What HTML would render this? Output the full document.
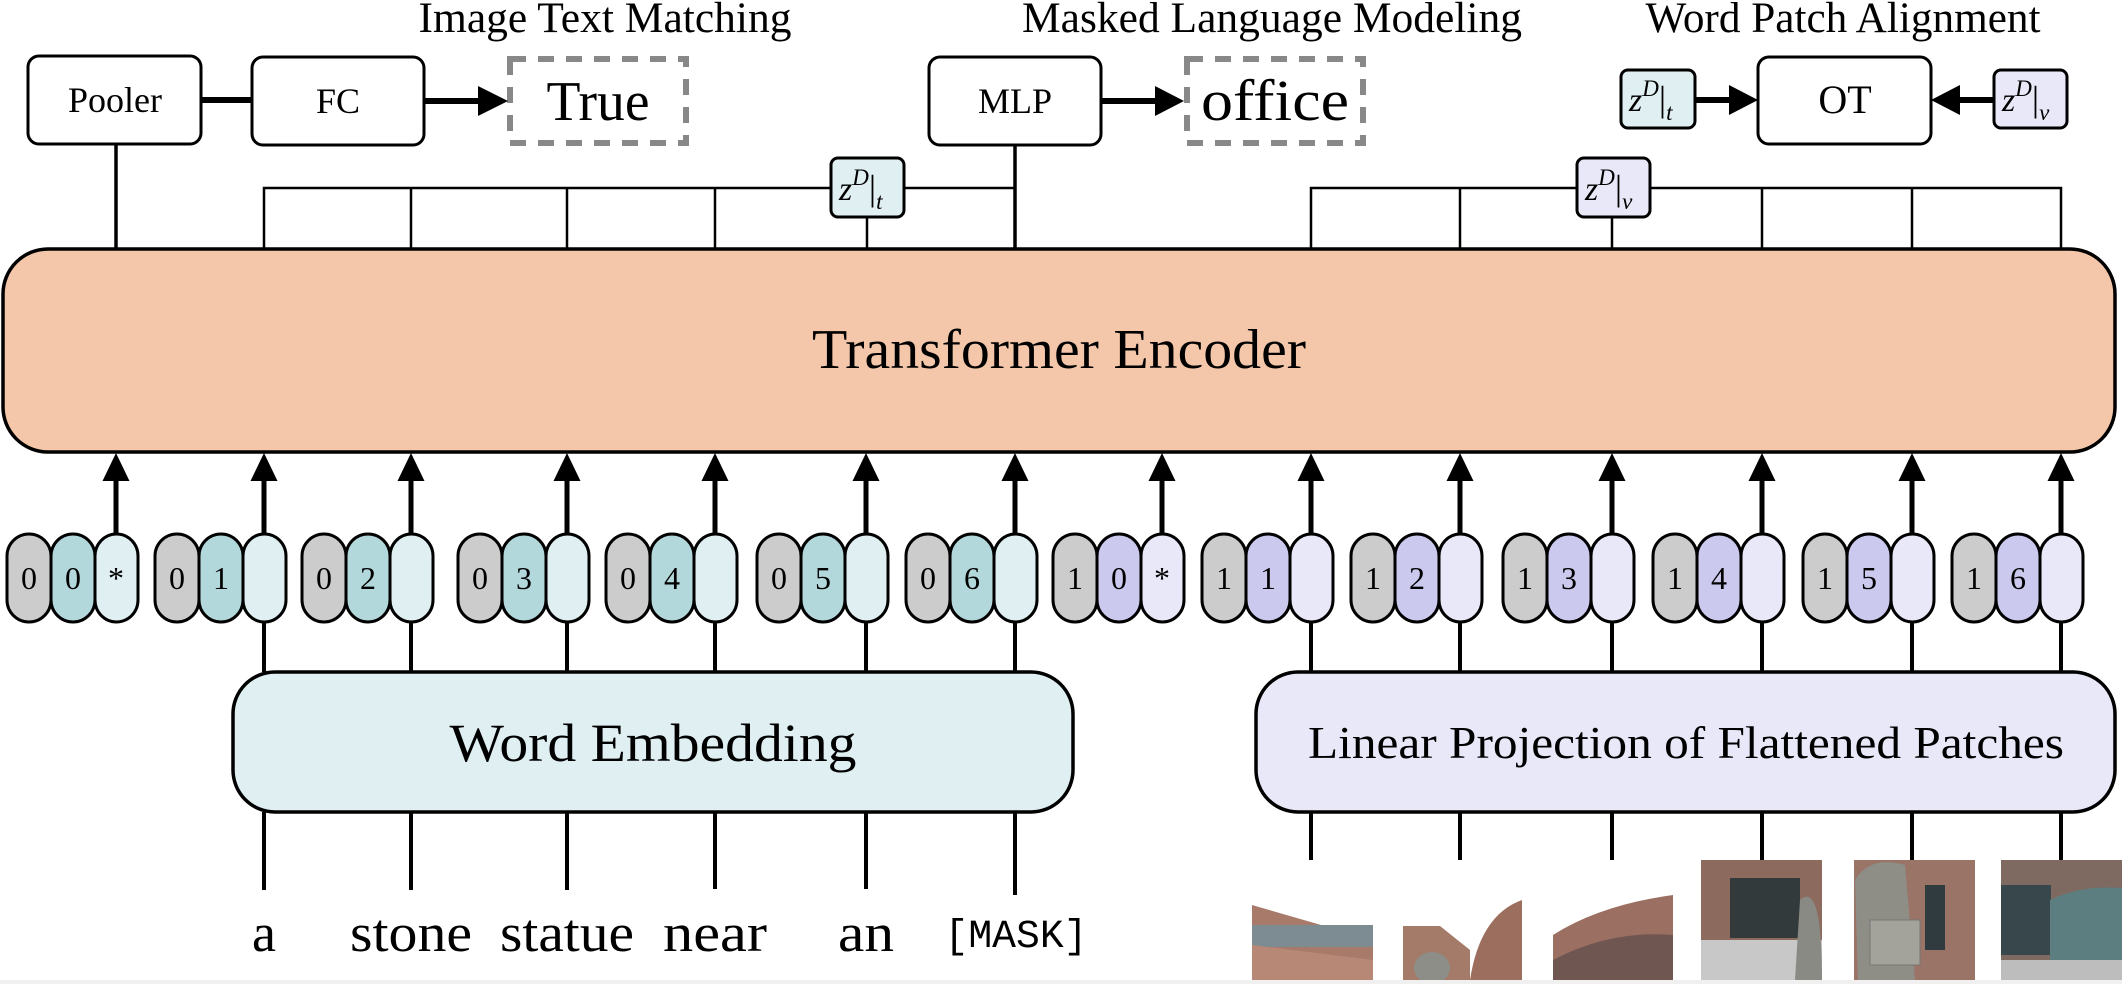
<!DOCTYPE html>
<html><head><meta charset="utf-8"><style>
html,body{margin:0;padding:0;background:#fff;}
svg{display:block;}
text{font-family:"Liberation Serif",serif;fill:#000;}
</style></head><body>
<svg width="2122" height="984" viewBox="0 0 2122 984" xmlns="http://www.w3.org/2000/svg">
<defs>
<g id="up"><polygon points="0,0 -13.5,28 13.5,28" fill="#000"/></g>
</defs>
<text x="605" y="32" font-size="43" text-anchor="middle" textLength="373" lengthAdjust="spacingAndGlyphs">Image Text Matching</text>
<text x="1272" y="32" font-size="43" text-anchor="middle" textLength="500" lengthAdjust="spacingAndGlyphs">Masked Language Modeling</text>
<text x="1843" y="32" font-size="43" text-anchor="middle" textLength="395" lengthAdjust="spacingAndGlyphs">Word Patch Alignment</text>

<g fill="#fff" stroke="#000" stroke-width="3">
<rect x="28" y="56" width="173" height="88" rx="11"/>
<rect x="252" y="57" width="172" height="88" rx="11"/>
<rect x="929" y="57" width="172" height="88" rx="11"/>
<rect x="1758" y="57" width="173" height="87" rx="11"/>
</g>
<text x="115" y="112" font-size="36" text-anchor="middle">Pooler</text>
<text x="338" y="113" font-size="36" text-anchor="middle">FC</text>
<text x="1015" y="113" font-size="36" text-anchor="middle">MLP</text>
<text x="1845" y="113" font-size="40" text-anchor="middle">OT</text>

<g fill="none" stroke="#888" stroke-width="6" stroke-dasharray="16,12">
<rect x="510" y="59" width="176" height="84"/>
<rect x="1187" y="59" width="176" height="84"/>
</g>
<text x="598" y="120" font-size="56" text-anchor="middle" textLength="103" lengthAdjust="spacingAndGlyphs">True</text>
<text x="1275" y="120" font-size="58" text-anchor="middle" textLength="148" lengthAdjust="spacingAndGlyphs">office</text>

<g stroke="#000" fill="none">
<line x1="201" y1="100" x2="252" y2="100" stroke-width="6"/>
<line x1="424" y1="101" x2="480" y2="101" stroke-width="6"/>
<line x1="1101" y1="101" x2="1158" y2="101" stroke-width="6"/>
<line x1="1695" y1="100" x2="1732" y2="100" stroke-width="6"/>
<line x1="1957" y1="100" x2="1994" y2="100" stroke-width="6"/>
<line x1="116" y1="144" x2="116" y2="250" stroke-width="3.5"/>
<line x1="1015" y1="144" x2="1015" y2="250" stroke-width="3.5"/>
<polyline points="264,250 264,188 1015,188" stroke-width="2.5"/>
<line x1="411" y1="188" x2="411" y2="250" stroke-width="2.5"/>
<line x1="567" y1="188" x2="567" y2="250" stroke-width="2.5"/>
<line x1="715" y1="188" x2="715" y2="250" stroke-width="2.5"/>
<line x1="867" y1="217" x2="867" y2="250" stroke-width="2.5"/>
<polyline points="1311,250 1311,188 2061,188 2061,250" stroke-width="2.5"/>
<line x1="1460" y1="188" x2="1460" y2="250" stroke-width="2.5"/>
<line x1="1612" y1="217" x2="1612" y2="250" stroke-width="2.5"/>
<line x1="1762" y1="188" x2="1762" y2="250" stroke-width="2.5"/>
<line x1="1912" y1="188" x2="1912" y2="250" stroke-width="2.5"/>
</g>
<polygon points="508,101 478,86 478,116" fill="#000"/>
<polygon points="1184,101 1155,86 1155,116" fill="#000"/>
<polygon points="1758,100 1729,85 1729,115" fill="#000"/>
<polygon points="1931,100 1960,85 1960,115" fill="#000"/>

<g stroke="#000" stroke-width="3">
<rect x="831" y="158" width="73" height="59" rx="7" fill="#dfeff2"/>
<rect x="1577" y="158" width="73" height="59" rx="7" fill="#e9e8f8"/>
<rect x="1621" y="70" width="74" height="58" rx="7" fill="#dfeff2"/>
<rect x="1994" y="70" width="73" height="58" rx="7" fill="#e9e8f8"/>
</g>
<g font-size="34" font-style="italic">
<text x="839" y="200">z<tspan font-size="23" dy="-15">D</tspan><tspan font-style="normal" dy="15" font-size="36">|</tspan><tspan font-size="23" dy="9">t</tspan></text>
<text x="1585" y="200">z<tspan font-size="23" dy="-15">D</tspan><tspan font-style="normal" dy="15" font-size="36">|</tspan><tspan font-size="23" dy="9">v</tspan></text>
<text x="1629" y="111">z<tspan font-size="23" dy="-15">D</tspan><tspan font-style="normal" dy="15" font-size="36">|</tspan><tspan font-size="23" dy="9">t</tspan></text>
<text x="2002" y="111">z<tspan font-size="23" dy="-15">D</tspan><tspan font-style="normal" dy="15" font-size="36">|</tspan><tspan font-size="23" dy="9">v</tspan></text>
</g>

<rect x="3" y="249" width="2112" height="203" rx="45" fill="#f4c7aa" stroke="#000" stroke-width="3.5"/>
<text x="1059" y="368" font-size="56" text-anchor="middle" textLength="494" lengthAdjust="spacingAndGlyphs">Transformer Encoder</text>

<g stroke="#000" stroke-width="5">
<line x1="116" y1="478" x2="116" y2="534"/><line x1="264" y1="478" x2="264" y2="534"/>
<line x1="411" y1="478" x2="411" y2="534"/><line x1="567" y1="478" x2="567" y2="534"/>
<line x1="715" y1="478" x2="715" y2="534"/><line x1="866" y1="478" x2="866" y2="534"/>
<line x1="1015" y1="478" x2="1015" y2="534"/><line x1="1162" y1="478" x2="1162" y2="534"/>
<line x1="1311" y1="478" x2="1311" y2="534"/><line x1="1460" y1="478" x2="1460" y2="534"/>
<line x1="1612" y1="478" x2="1612" y2="534"/><line x1="1762" y1="478" x2="1762" y2="534"/>
<line x1="1912" y1="478" x2="1912" y2="534"/><line x1="2061" y1="478" x2="2061" y2="534"/>
</g>
<use href="#up" x="116" y="453"/><use href="#up" x="264" y="453"/><use href="#up" x="411" y="453"/>
<use href="#up" x="567" y="453"/><use href="#up" x="715" y="453"/><use href="#up" x="866" y="453"/>
<use href="#up" x="1015" y="453"/><use href="#up" x="1162" y="453"/><use href="#up" x="1311" y="453"/>
<use href="#up" x="1460" y="453"/><use href="#up" x="1612" y="453"/><use href="#up" x="1762" y="453"/>
<use href="#up" x="1912" y="453"/><use href="#up" x="2061" y="453"/>

<g stroke="#000" stroke-width="3">
<rect x="7" y="534" width="44" height="88" rx="22" fill="#cccccc"/><rect x="51" y="534" width="44" height="88" rx="22" fill="#b3d8dc"/><rect x="95" y="534" width="43" height="88" rx="22" fill="#dfeff2"/>
<rect x="155" y="534" width="44" height="88" rx="22" fill="#cccccc"/><rect x="199" y="534" width="44" height="88" rx="22" fill="#b3d8dc"/><rect x="243" y="534" width="43" height="88" rx="22" fill="#dfeff2"/>
<rect x="302" y="534" width="44" height="88" rx="22" fill="#cccccc"/><rect x="346" y="534" width="44" height="88" rx="22" fill="#b3d8dc"/><rect x="390" y="534" width="43" height="88" rx="22" fill="#dfeff2"/>
<rect x="458" y="534" width="44" height="88" rx="22" fill="#cccccc"/><rect x="502" y="534" width="44" height="88" rx="22" fill="#b3d8dc"/><rect x="546" y="534" width="43" height="88" rx="22" fill="#dfeff2"/>
<rect x="606" y="534" width="44" height="88" rx="22" fill="#cccccc"/><rect x="650" y="534" width="44" height="88" rx="22" fill="#b3d8dc"/><rect x="694" y="534" width="43" height="88" rx="22" fill="#dfeff2"/>
<rect x="757" y="534" width="44" height="88" rx="22" fill="#cccccc"/><rect x="801" y="534" width="44" height="88" rx="22" fill="#b3d8dc"/><rect x="845" y="534" width="43" height="88" rx="22" fill="#dfeff2"/>
<rect x="906" y="534" width="44" height="88" rx="22" fill="#cccccc"/><rect x="950" y="534" width="44" height="88" rx="22" fill="#b3d8dc"/><rect x="994" y="534" width="43" height="88" rx="22" fill="#dfeff2"/>
<rect x="1053" y="534" width="44" height="88" rx="22" fill="#cccccc"/><rect x="1097" y="534" width="44" height="88" rx="22" fill="#cbc9ee"/><rect x="1141" y="534" width="43" height="88" rx="22" fill="#e9e8f8"/>
<rect x="1202" y="534" width="44" height="88" rx="22" fill="#cccccc"/><rect x="1246" y="534" width="44" height="88" rx="22" fill="#cbc9ee"/><rect x="1290" y="534" width="43" height="88" rx="22" fill="#e9e8f8"/>
<rect x="1351" y="534" width="44" height="88" rx="22" fill="#cccccc"/><rect x="1395" y="534" width="44" height="88" rx="22" fill="#cbc9ee"/><rect x="1439" y="534" width="43" height="88" rx="22" fill="#e9e8f8"/>
<rect x="1503" y="534" width="44" height="88" rx="22" fill="#cccccc"/><rect x="1547" y="534" width="44" height="88" rx="22" fill="#cbc9ee"/><rect x="1591" y="534" width="43" height="88" rx="22" fill="#e9e8f8"/>
<rect x="1653" y="534" width="44" height="88" rx="22" fill="#cccccc"/><rect x="1697" y="534" width="44" height="88" rx="22" fill="#cbc9ee"/><rect x="1741" y="534" width="43" height="88" rx="22" fill="#e9e8f8"/>
<rect x="1803" y="534" width="44" height="88" rx="22" fill="#cccccc"/><rect x="1847" y="534" width="44" height="88" rx="22" fill="#cbc9ee"/><rect x="1891" y="534" width="43" height="88" rx="22" fill="#e9e8f8"/>
<rect x="1952" y="534" width="44" height="88" rx="22" fill="#cccccc"/><rect x="1996" y="534" width="44" height="88" rx="22" fill="#cbc9ee"/><rect x="2040" y="534" width="43" height="88" rx="22" fill="#e9e8f8"/>
</g>
<g font-size="32" text-anchor="middle">
<text x="29" y="589">0</text><text x="73" y="589">0</text><text x="116" y="589">*</text>
<text x="177" y="589">0</text><text x="221" y="589">1</text>
<text x="324" y="589">0</text><text x="368" y="589">2</text>
<text x="480" y="589">0</text><text x="524" y="589">3</text>
<text x="628" y="589">0</text><text x="672" y="589">4</text>
<text x="779" y="589">0</text><text x="823" y="589">5</text>
<text x="928" y="589">0</text><text x="972" y="589">6</text>
<text x="1075" y="589">1</text><text x="1119" y="589">0</text><text x="1162" y="589">*</text>
<text x="1224" y="589">1</text><text x="1268" y="589">1</text>
<text x="1373" y="589">1</text><text x="1417" y="589">2</text>
<text x="1525" y="589">1</text><text x="1569" y="589">3</text>
<text x="1675" y="589">1</text><text x="1719" y="589">4</text>
<text x="1825" y="589">1</text><text x="1869" y="589">5</text>
<text x="1974" y="589">1</text><text x="2018" y="589">6</text>
</g>

<g stroke="#000" stroke-width="4">
<line x1="264" y1="622" x2="264" y2="672"/><line x1="411" y1="622" x2="411" y2="672"/>
<line x1="567" y1="622" x2="567" y2="672"/><line x1="715" y1="622" x2="715" y2="672"/>
<line x1="866" y1="622" x2="866" y2="672"/><line x1="1015" y1="622" x2="1015" y2="672"/>
<line x1="1311" y1="622" x2="1311" y2="672"/><line x1="1460" y1="622" x2="1460" y2="672"/>
<line x1="1612" y1="622" x2="1612" y2="672"/><line x1="1762" y1="622" x2="1762" y2="672"/>
<line x1="1912" y1="622" x2="1912" y2="672"/><line x1="2061" y1="622" x2="2061" y2="672"/>
<line x1="264" y1="812" x2="264" y2="890"/><line x1="411" y1="812" x2="411" y2="890"/>
<line x1="567" y1="812" x2="567" y2="890"/><line x1="715" y1="812" x2="715" y2="889"/>
<line x1="866" y1="812" x2="866" y2="889"/><line x1="1015" y1="812" x2="1015" y2="895"/>
<line x1="1311" y1="812" x2="1311" y2="860"/><line x1="1460" y1="812" x2="1460" y2="860"/>
<line x1="1612" y1="812" x2="1612" y2="860"/><line x1="1762" y1="812" x2="1762" y2="860"/>
<line x1="1912" y1="812" x2="1912" y2="860"/><line x1="2061" y1="812" x2="2061" y2="860"/>
</g>
<rect x="233" y="672" width="840" height="140" rx="42" fill="#dfeff2" stroke="#000" stroke-width="3.5"/>
<rect x="1256" y="672" width="859" height="140" rx="42" fill="#e9e8f8" stroke="#000" stroke-width="3.5"/>
<text x="653" y="761" font-size="54" text-anchor="middle" textLength="407" lengthAdjust="spacingAndGlyphs">Word Embedding</text>
<text x="1686" y="758" font-size="46" text-anchor="middle" textLength="756" lengthAdjust="spacingAndGlyphs">Linear Projection of Flattened Patches</text>

<g font-size="54" text-anchor="middle">
<text x="264" y="951">a</text>
<text x="411" y="951" textLength="122" lengthAdjust="spacingAndGlyphs">stone</text>
<text x="567" y="951" textLength="134" lengthAdjust="spacingAndGlyphs">statue</text>
<text x="715" y="951" textLength="104" lengthAdjust="spacingAndGlyphs">near</text>
<text x="866" y="951" textLength="56" lengthAdjust="spacingAndGlyphs">an</text>
</g>
<text x="1016" y="947" font-size="40" text-anchor="middle" textLength="143" lengthAdjust="spacingAndGlyphs" style="font-family:'Liberation Mono',monospace">[MASK]</text>

<g>
<polygon points="1252,905 1373,940 1373,980 1252,980" fill="#a87a6a"/>
<rect x="1252" y="925" width="121" height="22" fill="#7d8c92"/>
<polygon points="1252,945 1373,960 1373,980 1252,980" fill="#b88877"/>
<polygon points="1403,926 1440,926 1470,950 1470,980 1403,980" fill="#a47a68"/>
<path d="M1470,980 Q1480,915 1522,900 L1522,980 Z" fill="#9c6e5e"/>
<ellipse cx="1432" cy="968" rx="18" ry="16" fill="#8e8e88"/>
<path d="M1553,935 Q1600,905 1673,895 L1673,980 L1553,980 Z" fill="#9b6f61"/>
<path d="M1553,960 Q1610,930 1673,935 L1673,980 L1553,980 Z" fill="#6f5650"/>
<rect x="1701" y="860" width="121" height="120" fill="#8c6a5e"/>
<rect x="1730" y="878" width="70" height="60" fill="#333a3c"/>
<rect x="1701" y="940" width="121" height="40" fill="#c8c8c8"/>
<path d="M1800,900 Q1822,880 1822,980 L1795,980 Z" fill="#8a8a84"/>
<rect x="1854" y="860" width="121" height="120" fill="#9a7466"/>
<rect x="1925" y="885" width="20" height="65" fill="#2f3b3f"/>
<path d="M1855,880 Q1870,855 1905,865 L1915,980 L1858,980 Z" fill="#8e8d86"/>
<rect x="1870" y="920" width="50" height="45" fill="#a3a29b" stroke="#777" stroke-width="1"/>
<rect x="2001" y="860" width="121" height="120" fill="#7f6a62"/>
<rect x="2001" y="885" width="50" height="70" fill="#37474b"/>
<path d="M2050,900 Q2080,885 2122,888 L2122,980 L2050,980 Z" fill="#5c7e80"/>
<rect x="2001" y="960" width="121" height="20" fill="#bdbdbd"/>
</g>
<rect x="0" y="980" width="2122" height="4" fill="#f0f0f0"/>
</svg>
</body></html>
